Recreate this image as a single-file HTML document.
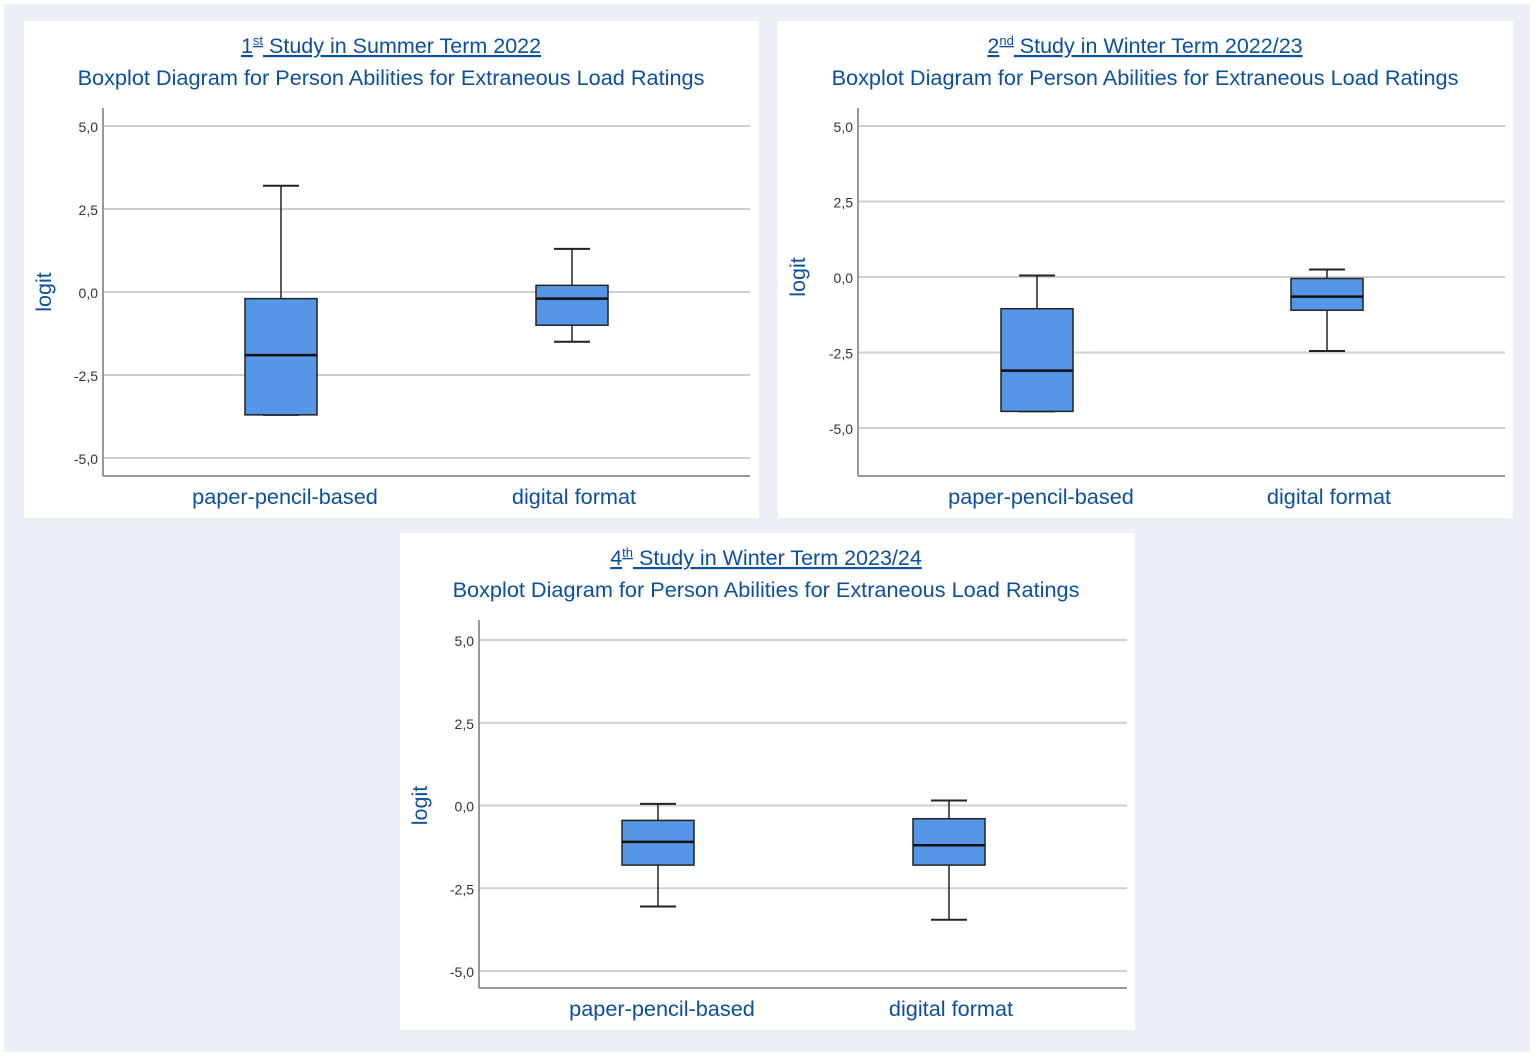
<!DOCTYPE html>
<html><head><meta charset="utf-8"><style>
body{margin:0;width:1535px;height:1056px;background:#fff;font-family:"Liberation Sans",sans-serif;}
#bg{position:absolute;left:4px;top:4px;width:1526px;height:1048px;background:#eceff6;}
svg{position:absolute;left:0;top:0}
</style></head><body>
<div id="bg"></div>
<svg id="c" width="1535" height="1056"></svg>
<script>
const categories = ["paper-pencil-based","digital format"];
// [whiskerHigh, Q3, median, Q1, whiskerLow] per category
const study1 = [[3.2,-0.2,-1.9,-3.7,-3.7],[1.3,0.2,-0.2,-1.0,-1.5]];
const study2 = [[0.05,-1.05,-3.1,-4.45,-4.45],[0.25,-0.05,-0.65,-1.1,-2.45]];
const study4 = [[0.05,-0.45,-1.1,-1.8,-3.05],[0.15,-0.4,-1.2,-1.8,-3.45]];
const tickValues = [5,2.5,0,-2.5,-5];
const tickLabels = ["5,0","2,5","0,0","-2,5","-5,0"];
const titles = [["1","st"," Study in Summer Term 2022"],["2","nd"," Study in Winter Term 2022/23"],["4","th"," Study in Winter Term 2023/24"]];

const NS="http://www.w3.org/2000/svg";
const svg=document.getElementById('c');
function mk(t,a,p){const e=document.createElementNS(NS,t);for(const k in a)e.setAttribute(k,a[k]);(p||svg).appendChild(e);return e;}

const panels=[
 {px:24,py:21,ax:103,y5:126,ym5:458,gx:750,cx:[281,572],data:study1,title:titles[0],tcx:391,logitX:44},
 {px:778,py:21,ax:858,y5:126,ym5:428,gx:1505,cx:[1037,1327],data:study2,title:titles[1],tcx:1145,logitX:798},
 {px:400,py:533,ax:479,y5:640,ym5:971,gx:1127,cx:[658,949],data:study4,title:titles[2],tcx:766,logitX:420}
];
panels.forEach((P,pi)=>{
 const g=mk('g',{});
 
 
 const r=mk('rect',{x:P.px,y:P.py,width:735,height:497,fill:'#fff'},g);
 
 
 const y=v=>P.y5+(5-v)*(P.ym5-P.y5)/10;
 const bottom=P.py+455;
 const t1=mk('text',{x:P.tcx,y:P.py+32,'text-anchor':'middle','font-size':21.5,fill:'#0b4f9e','text-decoration':'underline'},g);
 
 
 const a=mk('tspan',{},t1);a.textContent=P.title[0];
 const b=mk('tspan',{'font-size':13,dy:-8},t1);b.textContent=P.title[1];
 const c=mk('tspan',{dy:8},t1);c.textContent=P.title[2];
 const t2=mk('text',{x:P.tcx,y:P.py+64,'text-anchor':'middle','font-size':21.7,fill:'#0b4f9e'},g);
 t2.textContent='Boxplot Diagram for Person Abilities for Extraneous Load Ratings';
 
 
 tickValues.forEach((v,i)=>{
  const l=mk('line',{x1:P.ax,x2:P.gx,y1:y(v),y2:y(v),stroke:'#cfcfcf','stroke-width':2},g);
  
  
  const tx=mk('text',{x:P.ax-5,y:y(v)+6,'text-anchor':'end','font-size':14,fill:'#333'},g);
  tx.textContent=tickLabels[i];
  
  
 });
 mk('line',{x1:P.ax,x2:P.ax,y1:P.py+87,y2:bottom,stroke:'#999','stroke-width':2},g);
 mk('line',{x1:P.ax,x2:P.gx,y1:bottom,y2:bottom,stroke:'#777','stroke-width':1.5},g);
 const lg=mk('text',{x:P.logitX,y:y(0),'text-anchor':'middle','font-size':21.5,fill:'#0b4f9e',transform:`rotate(-90 ${P.logitX} ${y(0)})`,dy:7},g);
 lg.textContent='logit';
 
 
 P.data.forEach((d,i)=>{
  const cx=P.cx[i],hw=36;
  const bg=mk('g',{},g);
  
  
  mk('line',{x1:cx,x2:cx,y1:y(d[0]),y2:y(d[1]),stroke:'#222','stroke-width':1.5},bg);
  mk('line',{x1:cx,x2:cx,y1:y(d[3]),y2:y(d[4]),stroke:'#222','stroke-width':1.5},bg);
  mk('line',{x1:cx-18,x2:cx+18,y1:y(d[0]),y2:y(d[0]),stroke:'#222','stroke-width':2},bg);
  mk('line',{x1:cx-18,x2:cx+18,y1:y(d[4]),y2:y(d[4]),stroke:'#222','stroke-width':2},bg);
  mk('rect',{x:cx-hw,y:y(d[1]),width:2*hw,height:y(d[3])-y(d[1]),fill:'#5596e6',stroke:'#222','stroke-width':1.5},bg);
  mk('line',{x1:cx-hw,x2:cx+hw,y1:y(d[2]),y2:y(d[2]),stroke:'#111','stroke-width':2.5},bg);
  const xl=mk('text',{x:cx+(i===0?4:2),y:bottom+28,'text-anchor':'middle','font-size':21.7,fill:'#0b4f9e'},g);
  xl.textContent=categories[i];
  
  
 });
});
</script>
</body></html>
